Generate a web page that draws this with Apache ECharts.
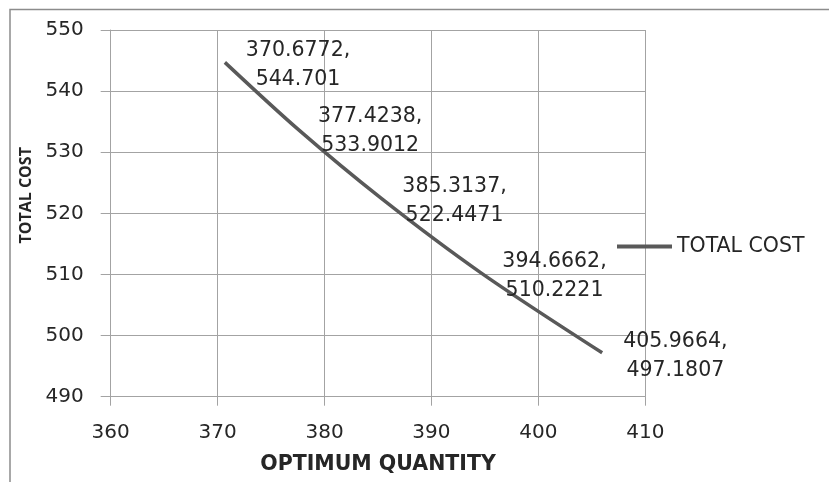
<!DOCTYPE html>
<html>
<head>
<meta charset="utf-8">
<script src="https://cdn.jsdelivr.net/npm/echarts@6/dist/echarts.min.js"></script>
<style>html,body{margin:0;padding:0;background:#fff}#c{width:829px;height:482px}</style>
</head>
<body>
<div id="c"></div>
<script>
const seriesName = 'TOTAL COST';
const xAxisName = 'OPTIMUM QUANTITY';
const yAxisName = 'TOTAL COST';
const quantity = [370.6772, 377.4238, 385.3137, 394.6662, 405.9664];
const totalCost = [544.701, 533.9012, 522.4471, 510.2221, 497.1807];
const labelQuantity = ['370.6772', '377.4238', '385.3137', '394.6662', '405.9664'];
const labelCost = ['544.701', '533.9012', '522.4471', '510.2221', '497.1807'];

const FONT = 'DejaVu Sans';
const TXT = '#262626';
const GRID = '#a3a3a3';
const LINE = '#595959';

const chart = echarts.init(document.getElementById('c'), null, {renderer: 'canvas'});
chart.setOption({
  animation: false,
  backgroundColor: '#fff',
  graphic: [{
    type: 'rect', silent: true,
    shape: {x: 10, y: 9.5, width: 900, height: 600},
    style: {fill: 'none', stroke: '#8c8c8c', lineWidth: 1.5}
  }],
  grid: {left: 110.7, right: 183.7, top: 30, bottom: 85.3, containLabel: false},
  legend: {
    data: [{name: seriesName, itemStyle: {color: LINE}}], left: 617, top: 236, padding: 0, icon: 'rect',
    itemWidth: 55, itemHeight: 4,
    textStyle: {fontFamily: FONT, fontSize: 20.5, color: TXT, lineHeight: 20}
  },
  xAxis: {
    type: 'value', min: 360, max: 410, interval: 10,
    name: xAxisName, nameLocation: 'middle', nameGap: 57,
    nameTextStyle: {fontFamily: FONT, fontSize: 20.5, fontWeight: 'bold', color: TXT},
    axisLine: {show: true, lineStyle: {color: GRID, width: 1}},
    axisTick: {show: true, length: 9, lineStyle: {color: GRID}},
    axisLabel: {fontFamily: FONT, fontSize: 20, color: TXT, margin: 26},
    splitLine: {show: true, lineStyle: {color: GRID, width: 1}}
  },
  yAxis: {
    type: 'value', min: 490, max: 550, interval: 10,
    name: yAxisName, nameLocation: 'middle', nameGap: 69, nameRotate: 90,
    nameTextStyle: {fontFamily: 'Open Sans', fontSize: 16, fontWeight: 'bold', color: TXT, padding: [0, 0, 0, 36]},
    axisLine: {show: true, lineStyle: {color: GRID, width: 1}},
    axisTick: {show: true, length: 10, lineStyle: {color: GRID}},
    axisLabel: {fontFamily: FONT, fontSize: 20, color: TXT, margin: 27},
    splitLine: {show: true, lineStyle: {color: GRID, width: 1}}
  },
  series: [{
    name: seriesName, type: 'line', smooth: 0.3, symbol: 'circle', symbolSize: 0, showSymbol: true,
    data: quantity.map((q, i) => [q, totalCost[i]]),
    lineStyle: {color: LINE, width: 3.5},
    itemStyle: {color: LINE},
    label: {
      show: true, position: 'right', distance: 21, offset: [0, 3],
      formatter: p => '{a|' + labelQuantity[p.dataIndex] + ',}\n{a|' + labelCost[p.dataIndex] + '}',
      rich: {a: {fontFamily: FONT, fontSize: 20.5, color: TXT, align: 'center', lineHeight: 29}}
    }
  }]
});
</script>
</body>
</html>
